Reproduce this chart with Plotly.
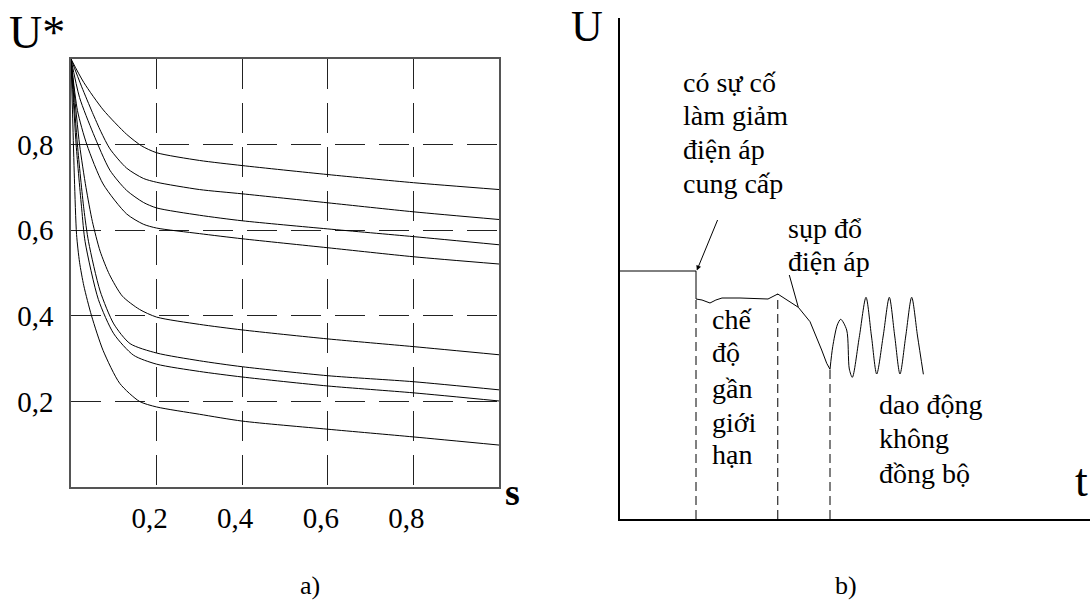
import plotly.graph_objects as go

W, H = 1090, 601
FONT = "Liberation Serif"
INK = "black"

# ---------------- Panel a) : U* versus s ----------------
c1_s = [0, 0.03, 0.0755, 0.13, 0.165, 0.2, 0.3, 0.4, 0.6, 0.8, 1.0]
c1_u = [1.0, 0.945, 0.881, 0.824, 0.797, 0.781, 0.763, 0.751, 0.73, 0.711, 0.695]

c2_s = [0, 0.025, 0.05, 0.07, 0.091, 0.13, 0.169, 0.2, 0.3, 0.4, 0.6, 0.8, 1.0]
c2_u = [1.0, 0.935, 0.875, 0.83, 0.79, 0.745, 0.721, 0.712, 0.695, 0.685, 0.664, 0.643, 0.625]

c3_s = [0, 0.02, 0.052, 0.091, 0.13, 0.169, 0.2, 0.3, 0.4, 0.6, 0.8, 1.0]
c3_u = [1.0, 0.91, 0.826, 0.74, 0.693, 0.665, 0.652, 0.635, 0.622, 0.603, 0.585, 0.566]

c4_s = [0, 0.015, 0.037, 0.075, 0.13, 0.169, 0.2, 0.3, 0.4, 0.6, 0.8, 1.0]
c4_u = [1.0, 0.88, 0.80, 0.708, 0.638, 0.614, 0.605, 0.592, 0.58, 0.559, 0.538, 0.521]

c5_s = [0, 0.02, 0.035, 0.05, 0.068, 0.09, 0.12, 0.16, 0.2, 0.3, 0.4, 0.6, 0.8, 1.0]
c5_u = [1.0, 0.80, 0.70, 0.62, 0.551, 0.496, 0.446, 0.415, 0.397, 0.38, 0.367, 0.346, 0.328, 0.309]

c6_s = [0, 0.015, 0.03, 0.041, 0.068, 0.1, 0.138, 0.2, 0.3, 0.4, 0.6, 0.8, 1.0]
c6_u = [1.0, 0.80, 0.65, 0.573, 0.458, 0.381, 0.335, 0.313, 0.295, 0.281, 0.26, 0.246, 0.227]

c7_s = [0, 0.012, 0.025, 0.033, 0.064, 0.1, 0.146, 0.2, 0.3, 0.4, 0.6, 0.8, 1.0]
c7_u = [1.0, 0.80, 0.65, 0.573, 0.438, 0.358, 0.308, 0.287, 0.27, 0.257, 0.236, 0.22, 0.201]

c8_s = [0, 0.004, 0.008, 0.013, 0.02, 0.03, 0.048, 0.075, 0.114, 0.16, 0.2, 0.3, 0.4, 0.6, 0.8, 1.0]
c8_u = [1.0, 0.86, 0.72, 0.59, 0.525, 0.47, 0.40, 0.319, 0.242, 0.2, 0.187, 0.17, 0.154, 0.135, 0.117, 0.098]

curves_a = [(c1_s, c1_u), (c2_s, c2_u), (c3_s, c3_u), (c4_s, c4_u),
            (c5_s, c5_u), (c6_s, c6_u), (c7_s, c7_u), (c8_s, c8_u)]

a_tickvals = [0.2, 0.4, 0.6, 0.8]
a_ticktext = ["0,2", "0,4", "0,6", "0,8"]

# ---------------- Panel b) : U versus t (schematic) ----------------
b_t = [0, 1.617, 1.617, 1.745, 1.915, 2.04, 2.17, 2.553, 3.149, 3.357,
       3.794, 4.043, 4.291, 4.398, 4.468]
b_u = [0.496, 0.496, 0.44, 0.438, 0.432, 0.438, 0.442, 0.442, 0.44, 0.45,
       0.4234, 0.3946, 0.338, 0.3114, 0.2994]

osc_t = [4.468, 4.526, 4.623, 4.696, 4.823, 4.879, 4.943, 5.09, 5.234, 5.35,
         5.462, 5.6, 5.73, 5.845, 5.957, 6.08, 6.206, 6.33, 6.455]
osc_u = [0.2994, 0.3446, 0.388, 0.3994, 0.378, 0.30, 0.2834, 0.363, 0.4434, 0.366,
         0.29, 0.366, 0.4434, 0.366, 0.29, 0.366, 0.4434, 0.366, 0.2894]

mark_t = [1.617, 3.357, 4.468]     # boundaries of the regimes
mark_u = [0.44, 0.45, 0.2994]

fault_arrow = (2.089, 0.601, 1.634, 0.497)      # tail t, tail U, head t, head U
collapse_ptr_t = [3.602, 3.794]
collapse_ptr_u = [0.488, 0.4234]


def px(x):
    return x / W


def py(y):
    return 1 - y / H


fig = go.Figure()

for s_vals, u_vals in curves_a:
    fig.add_trace(go.Scatter(x=s_vals, y=u_vals, mode="lines",
                             line=dict(color="#000000", width=1, shape="spline", smoothing=0.7),
                             xaxis="x", yaxis="y", hoverinfo="skip", showlegend=False))

fig.add_trace(go.Scatter(x=b_t, y=b_u, mode="lines",
                         line=dict(color="#000000", width=1),
                         xaxis="x2", yaxis="y2", hoverinfo="skip", showlegend=False))
fig.add_trace(go.Scatter(x=osc_t, y=osc_u, mode="lines",
                         line=dict(color="#000000", width=1, shape="spline", smoothing=0.8),
                         xaxis="x2", yaxis="y2", hoverinfo="skip", showlegend=False))
for t, u in zip(mark_t, mark_u):
    fig.add_trace(go.Scatter(x=[t, t], y=[0, u], mode="lines",
                             line=dict(color="#000000", width=1, dash="9px,5px"),
                             xaxis="x2", yaxis="y2", hoverinfo="skip", showlegend=False))
fig.add_trace(go.Scatter(x=collapse_ptr_t, y=collapse_ptr_u, mode="lines",
                         line=dict(color="#000000", width=1),
                         xaxis="x2", yaxis="y2", hoverinfo="skip", showlegend=False))

grid_common = dict(showgrid=True, gridcolor="#222222", gridwidth=1, griddash="30px,14px",
                   zeroline=False, showline=True, mirror=True, linecolor="#555555",
                   linewidth=1.5, ticks="",
                   tickfont=dict(family=FONT, size=29, color=INK),
                   tickvals=a_tickvals, ticktext=a_ticktext)

fig.update_layout(
    width=W, height=H,
    margin=dict(l=0, r=0, t=0, b=0),
    paper_bgcolor="white", plot_bgcolor="white",
    showlegend=False,
    font=dict(family=FONT, color=INK, size=28),
    xaxis=dict(domain=[px(71), px(499)], range=[0, 1], anchor="y",
               ticklabelshift=-7, ticklabelstandoff=4, **grid_common),
    yaxis=dict(domain=[py(487), py(59)], range=[0, 1], anchor="x",
               ticklabelstandoff=10, **grid_common),
    xaxis2=dict(domain=[px(620), 1.0], range=[0, 10], anchor="y2",
                showline=True, linecolor="black", linewidth=1.5, showgrid=False,
                zeroline=False, showticklabels=False, ticks=""),
    yaxis2=dict(domain=[py(519), py(18)], range=[0, 1.002], anchor="x2",
                showline=True, linecolor="black", linewidth=1.5, showgrid=False,
                zeroline=False, showticklabels=False, ticks=""),
)

ann = []


def label(text, x, y, size, xanchor="center", yanchor="middle"):
    ann.append(dict(text=text, x=px(x), y=py(y), xref="paper", yref="paper",
                    showarrow=False, xanchor=xanchor, yanchor=yanchor,
                    font=dict(family=FONT, size=size, color=INK)))


label("U*", 37, 33, 46)
label("<b>s</b>", 512, 492, 38)
label("a)", 310, 585, 26)
label("b)", 846, 585, 26)
label("U", 587, 27, 44)
label("t", 1081, 480, 46)

FS = 28
text_blocks = [
    (681, [("có sự cố", 90.5), ("làm giảm", 124), ("điện áp", 157.5), ("cung cấp", 192)]),
    (786, [("sụp đổ", 237), ("điện áp", 270)]),
    (710, [("chế", 328), ("độ", 361), ("gần", 397), ("giới", 431), ("hạn", 463)]),
    (877, [("dao động", 413), ("không", 447), ("đồng bộ", 482)]),
]
for x0, lines in text_blocks:
    for txt, base in lines:
        label(txt, x0, base - 0.3 * FS, FS, xanchor="left")

tail_t, tail_u, head_t, head_u = fault_arrow
ann.append(dict(x=head_t, y=head_u, ax=tail_t, ay=tail_u, xref="x2", yref="y2",
                axref="x2", ayref="y2", showarrow=True, arrowhead=2, arrowsize=1,
                arrowwidth=1, arrowcolor="#000000", text=""))

fig.update_layout(annotations=ann)

fig.write_html("out.html")
